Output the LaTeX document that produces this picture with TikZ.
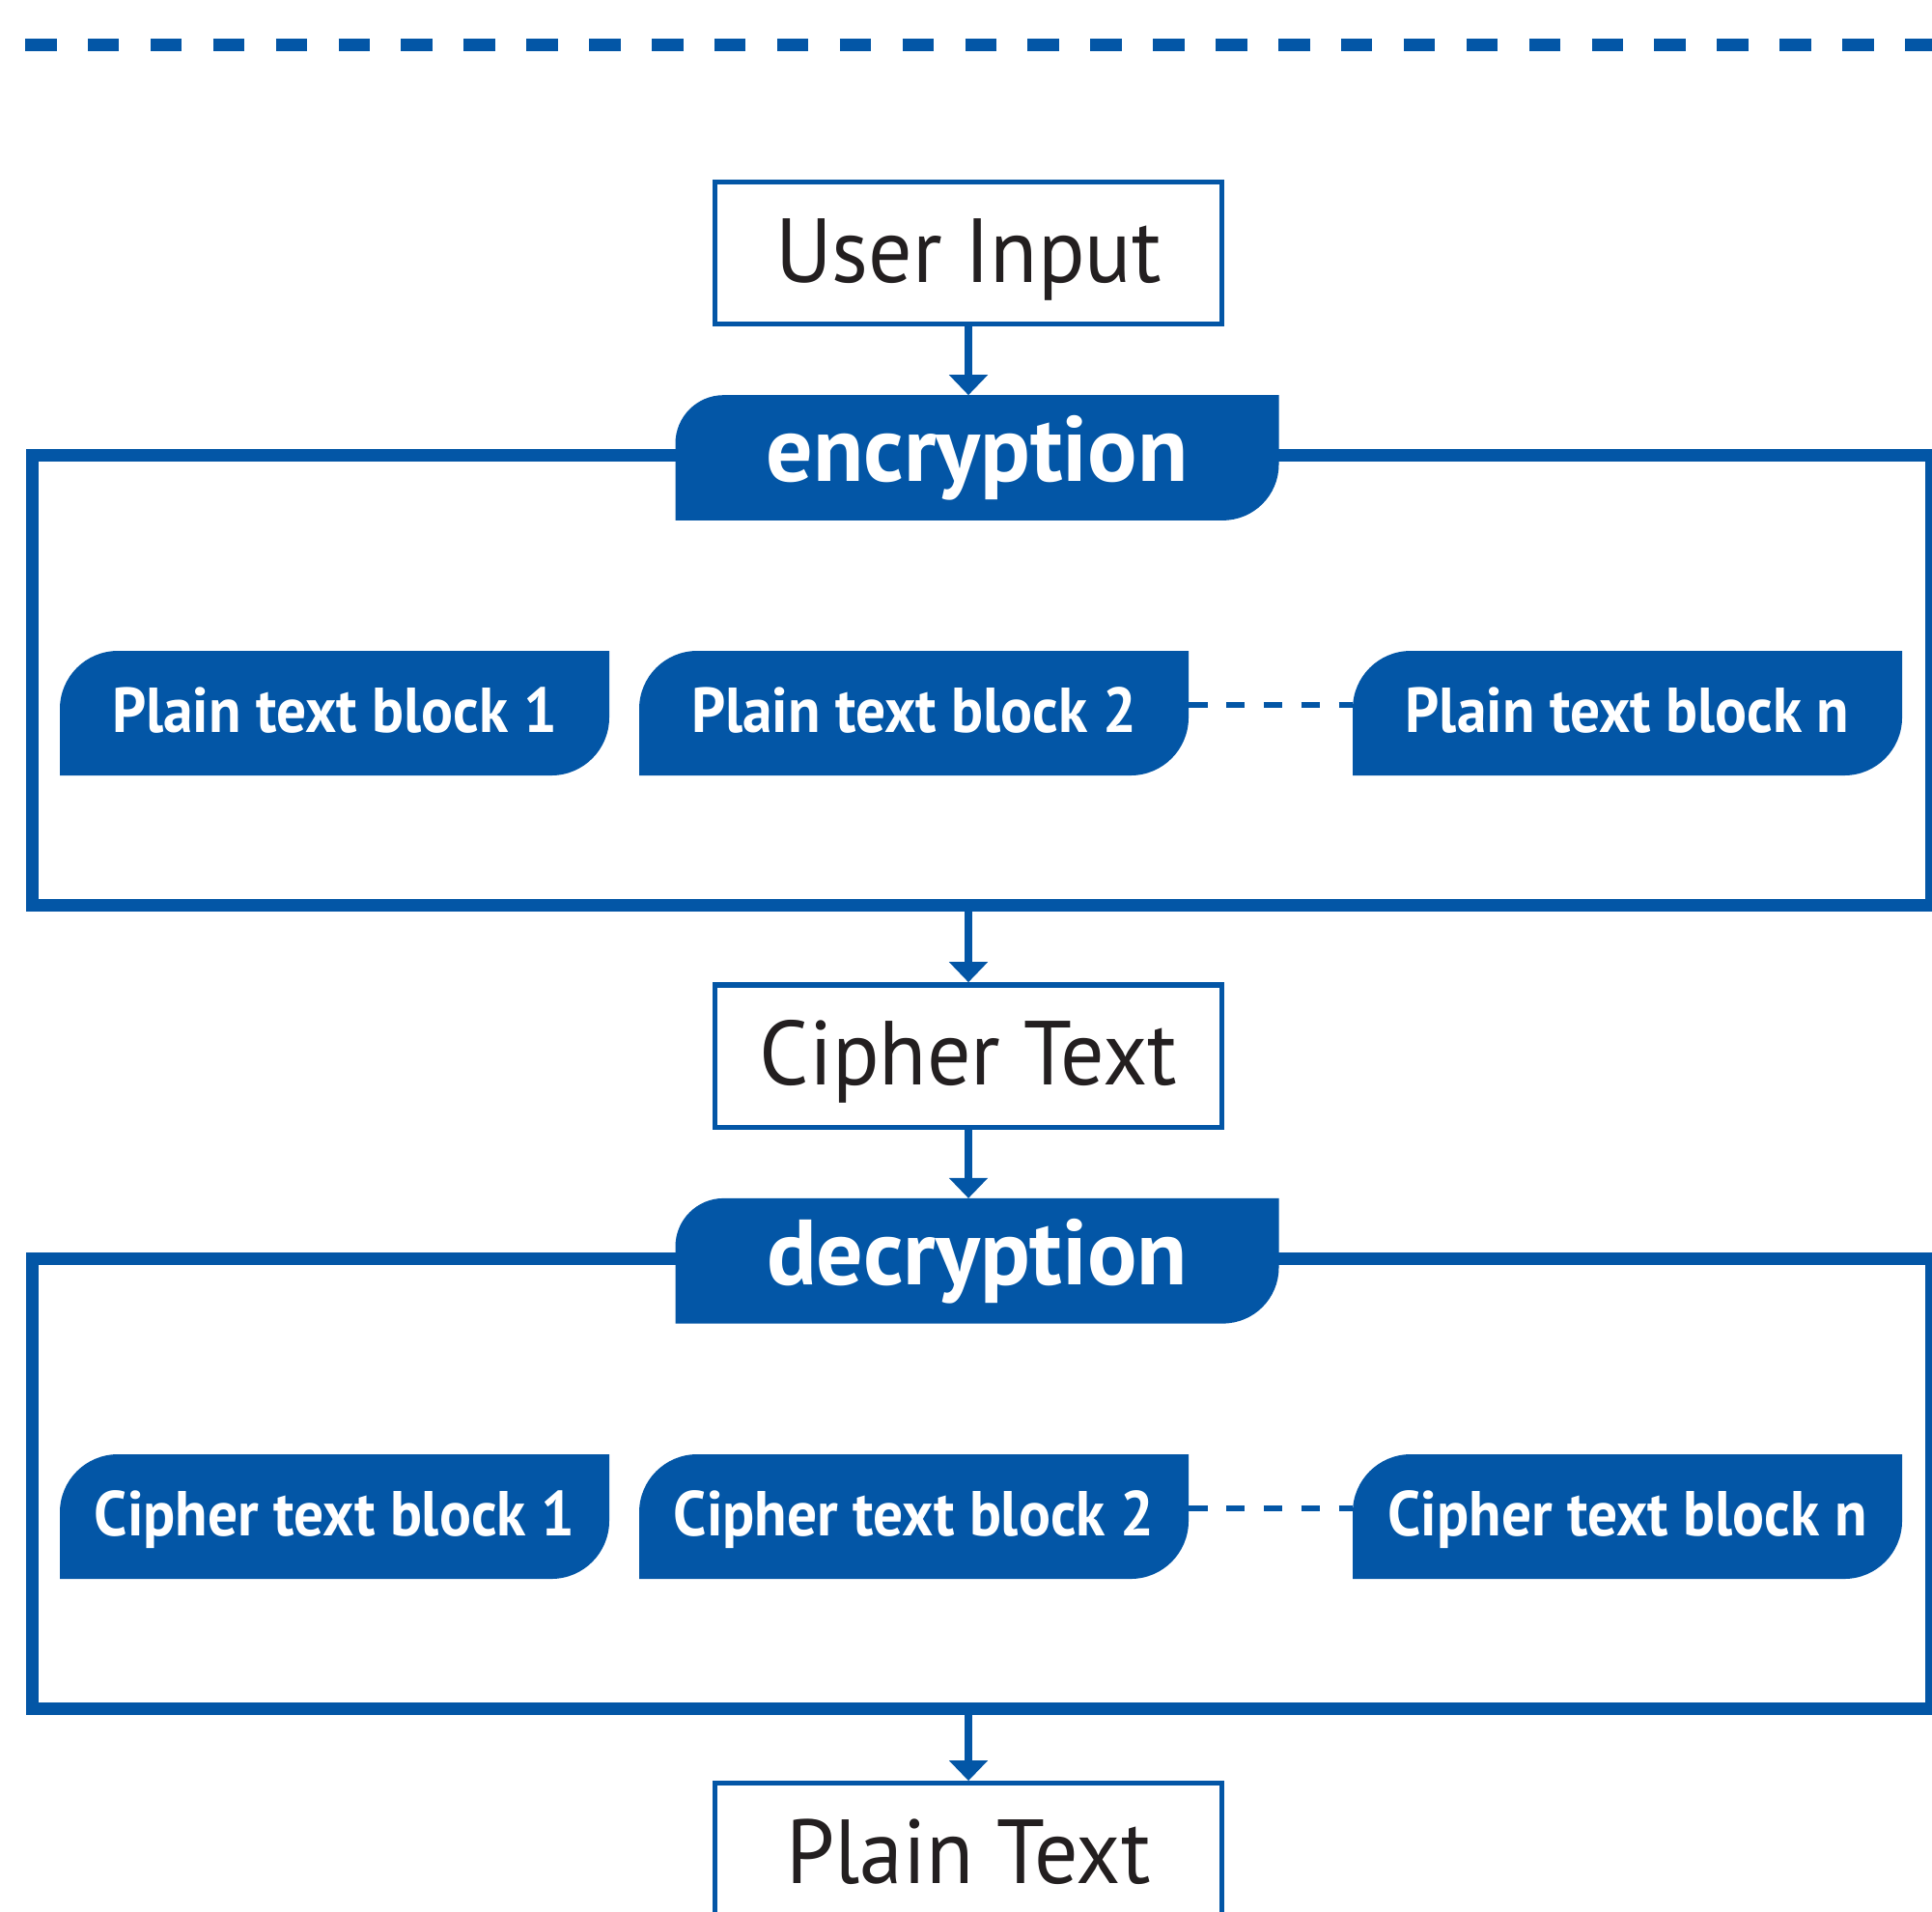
\documentclass[tikz,border=0pt]{standalone}
\usepackage{fontspec}
\setmainfont{PT Sans}
\newfontfamily\boxfont{PT Sans}[FakeStretch=0.955]
\newfontfamily\blockfont{PT Sans Bold}[FakeStretch=0.935]
\usepackage{tikz}
\usetikzlibrary{arrows.meta, positioning, backgrounds}
\definecolor{cblue}{RGB}{3,86,166}
\definecolor{cblack}{RGB}{35,31,32}
\tikzset{
    iobox/.style={rectangle, draw=cblue, line width=0.054cm, text=cblack, text centered, minimum width=5.25cm, minimum height=1.475cm, inner sep=0pt, text height=0.606cm, text depth=0cm, font=\boxfont\fontsize{26.8}{30}\selectfont},
    stagetab/.style={rectangle, text=white, minimum width=6.25cm, minimum height=1.297cm, inner sep=0pt, outer sep=0pt, text height=0.486cm, text depth=0cm, font=\bfseries\fontsize{27.3}{30}\selectfont},
    block/.style={rectangle, text=white, minimum width=5.69cm, minimum height=1.29cm, inner sep=0pt, outer sep=0pt, text height=0.396cm, text depth=0cm, font=\blockfont\fontsize{18.7}{22}\selectfont},
    stagebox/.style={rectangle, draw=cblue, line width=0.13cm, minimum width=19.665cm, minimum height=4.66cm},
    arrow/.style={cblue, line width=0.075cm, -{Triangle[width=0.39cm, length=0.21cm]}},
    dashlink/.style={cblue, line width=0.06cm, dash pattern=on 0.195cm off 0.194cm},
}

\begin{document}
\begin{tikzpicture}
    \useasboundingbox (0,0) rectangle (20.01,-19.79);

    % Top line
    \draw[cblue, line width=0.13cm, dash pattern=on 0.325cm off 0.324cm] (0.26,-0.465) -- (20.01,-0.465);

    % Nodes
    \node[iobox] (input) at (10.03,-2.62) {User Input};
    \node[stagetab] (enc) at (10.12,-4.74) {encryption};
    \node[block] (p1) at (3.465,-7.385) {Plain text block 1};
    \node[block, right=0.31cm of p1] (p2) {Plain text block 2};
    \node[block, right=1.70cm of p2] (pn) {Plain text block n};

    \node[iobox] (cipher) at (10.03,-10.936) {Cipher Text};
    \node[stagetab] (dec) at (10.12,-13.057) {decryption};
    \node[block, below=7.03cm of p1] (c1) {Cipher text block 1};
    \node[block, right=0.31cm of c1] (c2) {Cipher text block 2};
    \node[block, right=1.70cm of c2] (cn) {Cipher text block n};

    \node[iobox] (plain) at (10.03,-19.205) {Plain Text};

    % Frames and blue shapes
    \begin{scope}[on background layer]
        \node[stagebox] (encbox) at (10.1675,-7.047) {};
        \node[stagebox] (decbox) at (10.1675,-15.367) {};
        \foreach \n/\ra/\rb in {enc/0.5/0.58, dec/0.5/0.58, p1/0.6/0.6, p2/0.6/0.6, pn/0.6/0.6, c1/0.6/0.6, c2/0.6/0.6, cn/0.6/0.6}
            \fill[cblue] (\n.south west) -- ([yshift=-\ra cm]\n.north west) arc[start angle=180, end angle=90, radius=\ra cm] -- (\n.north east) -- ([yshift=\rb cm]\n.south east) arc[start angle=0, end angle=-90, radius=\rb cm] -- cycle;
    \end{scope}

    % Arrows
    \draw[arrow] (input.south) -- (input.south |- enc.north);
    \draw[arrow] (cipher.north |- encbox.south) -- (cipher.north);
    \draw[arrow] (cipher.south) -- (cipher.south |- dec.north);
    \draw[arrow] (plain.north |- decbox.south) -- (plain.north);

    % Dashed links
    \draw[dashlink] ([yshift=0.082cm]p2.east) -- ([yshift=0.082cm]pn.west);
    \draw[dashlink] ([yshift=0.082cm]c2.east) -- ([yshift=0.082cm]cn.west);

\end{tikzpicture}
\end{document}
